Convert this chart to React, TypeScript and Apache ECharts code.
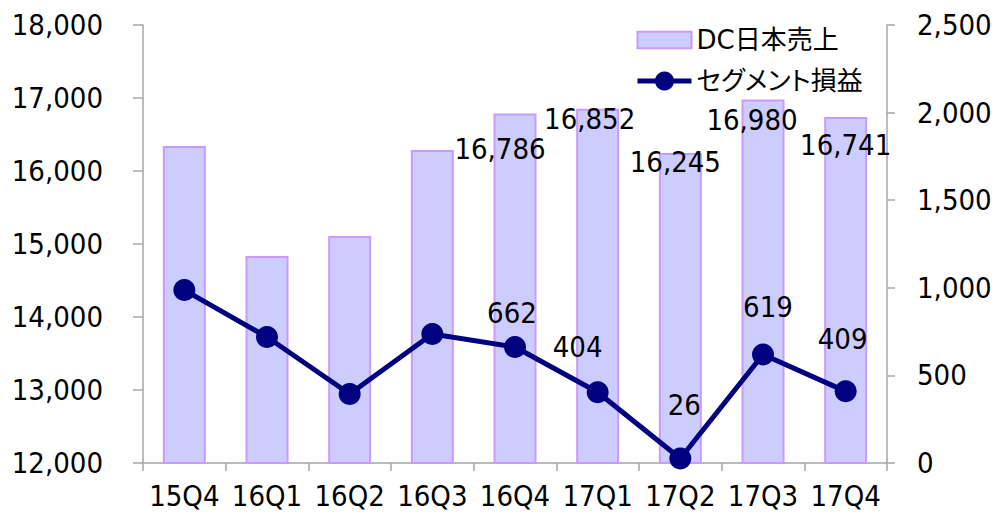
import React, { useEffect, useRef } from "react";
import * as echarts from "echarts";

const categories = ["15Q4", "16Q1", "16Q2", "16Q3", "16Q4", "17Q1", "17Q2", "17Q3", "17Q4"];
const salesValues = [16342, 14836, 15110, 16288, 16786, 16852, 16245, 16980, 16741];
const profitValues = [987, 719, 394, 736, 662, 404, 26, 619, 409];
const salesLabelShown = [false, false, false, false, true, true, true, true, true];
const profitLabelShown = [false, false, false, false, true, true, true, true, true];
const leftTicks = { min: 12000, max: 18000, interval: 1000 };
const rightTicks = { min: 0, max: 2500, interval: 500 };

// label offsets (manual placement like the original)
const salesLabelOffsets: [number, number][] = [[0, 0], [0, 0], [0, 0], [0, 0], [-15, 55], [-8, 30], [-5, 28], [-11, 40], [0, 48]];
const profitLabelOffsets: [number, number][] = [[0, 0], [0, 0], [0, 0], [0, 0], [-3, -4], [-20, -15], [4, -23], [5, -17], [-3, -22]];

const FONT = "'DejaVu Sans Condensed', 'DejaVu Sans', 'Noto Sans CJK JP', sans-serif";
const LEGEND_FONT = "'DejaVu Sans', 'Noto Sans CJK JP', sans-serif";
const fmt = (v: number) => v.toLocaleString("en-US");

export default function App() {
  const ref = useRef<HTMLDivElement>(null);
  useEffect(() => {
    if (!ref.current) return;
    const chart = echarts.init(ref.current, undefined, { renderer: "svg" });
    const axisLineStyle = { color: "#A6A6A6", width: 1.5 };
    chart.setOption({
      animation: false,
      textStyle: { fontFamily: FONT },
      grid: { left: 143, right: 111, top: 25, bottom: 53, containLabel: false },
      legend: {
        orient: "vertical",
        left: 635,
        top: 27,
        padding: 0,
        itemWidth: 54,
        itemHeight: 24,
        itemGap: 15,
        lineStyle: { width: 5 },
        textStyle: { fontSize: 26, color: "#000", fontFamily: LEGEND_FONT },
        data: [
          { name: "DC日本売上", icon: "path://M0,0H52V16H0Z" },
          { name: "セグメント損益" },
        ],
      },
      xAxis: {
        type: "category",
        data: categories,
        boundaryGap: true,
        axisLine: { lineStyle: axisLineStyle },
        axisTick: { show: true, alignWithLabel: false, length: 8, lineStyle: axisLineStyle },
        axisLabel: { color: "#000", fontSize: 29, margin: 18, interval: 0, fontFamily: FONT },
      },
      yAxis: [
        {
          type: "value",
          min: leftTicks.min,
          max: leftTicks.max,
          interval: leftTicks.interval,
          axisLine: { show: true, lineStyle: axisLineStyle },
          axisTick: { show: true, length: 10, lineStyle: axisLineStyle },
          splitLine: { show: false },
          axisLabel: { color: "#000", fontSize: 29, margin: 40, formatter: (v: number) => fmt(v), fontFamily: FONT },
        },
        {
          type: "value",
          position: "right",
          min: rightTicks.min,
          max: rightTicks.max,
          interval: rightTicks.interval,
          axisLine: { show: true, lineStyle: axisLineStyle },
          axisTick: { show: true, length: 8, lineStyle: axisLineStyle },
          splitLine: { show: false },
          axisLabel: { color: "#000", fontSize: 29, margin: 30, formatter: (v: number) => fmt(v), fontFamily: FONT },
        },
      ],
      series: [
        {
          name: "DC日本売上",
          type: "bar",
          yAxisIndex: 0,
          barWidth: 43,
          itemStyle: { color: "#CCCCFF", borderColor: "#CC99FF", borderWidth: 2 },
          data: salesValues.map((v, i) => ({
            value: v,
            label: {
              show: salesLabelShown[i],
              position: "top",
              offset: salesLabelOffsets[i],
              formatter: (p: any) => fmt(p.value),
              color: "#000",
              fontSize: 29,
              fontFamily: FONT,
            },
          })),
        },
        {
          name: "セグメント損益",
          type: "line",
          yAxisIndex: 1,
          symbol: "circle",
          symbolSize: 22,
          lineStyle: { color: "#000080", width: 5 },
          itemStyle: { color: "#000080" },
          data: profitValues.map((v, i) => ({
            value: v,
            label: {
              show: profitLabelShown[i],
              position: "top",
              offset: profitLabelOffsets[i],
              formatter: (p: any) => fmt(p.value),
              color: "#000",
              fontSize: 29,
              fontFamily: FONT,
            },
          })),
        },
      ],
    });
    return () => chart.dispose();
  }, []);
  return (
    <div
      ref={ref}
      style={{ width: 998, height: 516, position: "absolute", left: 0, top: 0, fontFeatureSettings: '"palt"' }}
    />
  );
}
